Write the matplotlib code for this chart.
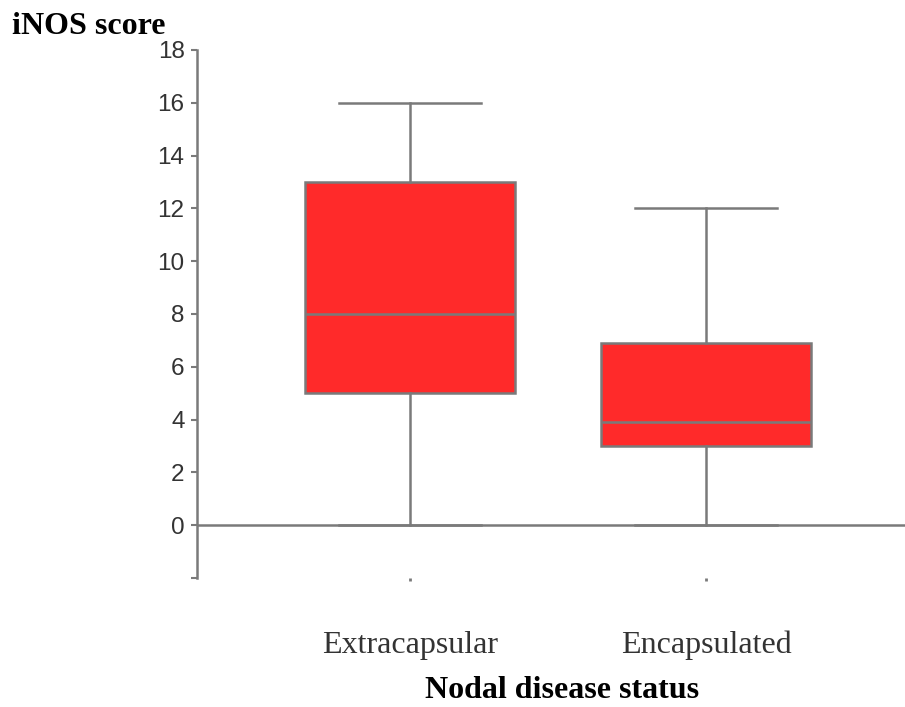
import matplotlib.pyplot as plt

groups = ['Extracapsular', 'Encapsulated']
whisker_low = [0, 0]
quartile_1 = [5, 3]
medians = [8, 3.9]
quartile_3 = [13, 6.9]
whisker_high = [16, 12]

stats = []
for i in range(len(groups)):
    stats.append({'label': groups[i], 'whislo': whisker_low[i], 'q1': quartile_1[i],
                  'med': medians[i], 'q3': quartile_3[i], 'whishi': whisker_high[i],
                  'fliers': []})

grey = '#7a7a7a'
fig = plt.figure(figsize=(9.05, 7.07), dpi=100)
ax = fig.add_axes([197 / 905, 1 - 578 / 707, 708 / 905, 528 / 707])

ax.bxp(stats, positions=[1, 2], widths=0.71, patch_artist=True, showfliers=False,
       boxprops=dict(facecolor='#ff2a2a', edgecolor=grey, linewidth=1.8),
       medianprops=dict(color=grey, linewidth=1.8),
       whiskerprops=dict(color=grey, linewidth=1.8),
       capprops=dict(color=grey, linewidth=1.8),
       capwidths=0.48, zorder=3)

ax.axhline(0, color=grey, linewidth=1.8, zorder=2)

ax.set_xlim(1 - 213 / 296, 2 + 199 / 296)
ax.set_ylim(-2, 18)
ax.set_yticks(range(-2, 19, 2))
ax.set_yticklabels([''] + [str(v) for v in range(0, 19, 2)],
                   fontfamily='Liberation Sans', fontsize=17.5, color='#333333')
ax.tick_params(axis='y', length=4, width=1.5, color=grey, pad=5)
ax.tick_params(axis='x', length=2, width=2, color=grey, pad=36)
ax.set_xticks([1, 2])
ax.set_xticklabels(groups, fontfamily='Liberation Serif', fontsize=23, color='#333333')

for side in ['top', 'right', 'bottom']:
    ax.spines[side].set_visible(False)
ax.spines['left'].set_color(grey)
ax.spines['left'].set_linewidth(1.8)

ax.set_xlabel('Nodal disease status', fontfamily='Liberation Serif', fontweight='bold',
              fontsize=23, va='center')
ax.xaxis.set_label_coords((562 - 197) / 708, (578 - 690) / 528)
fig.text(12 / 905, 1 - 26 / 707, 'iNOS score', fontfamily='Liberation Serif',
         fontweight='bold', fontsize=23, va='center')

fig.savefig('out.png', dpi=100)
